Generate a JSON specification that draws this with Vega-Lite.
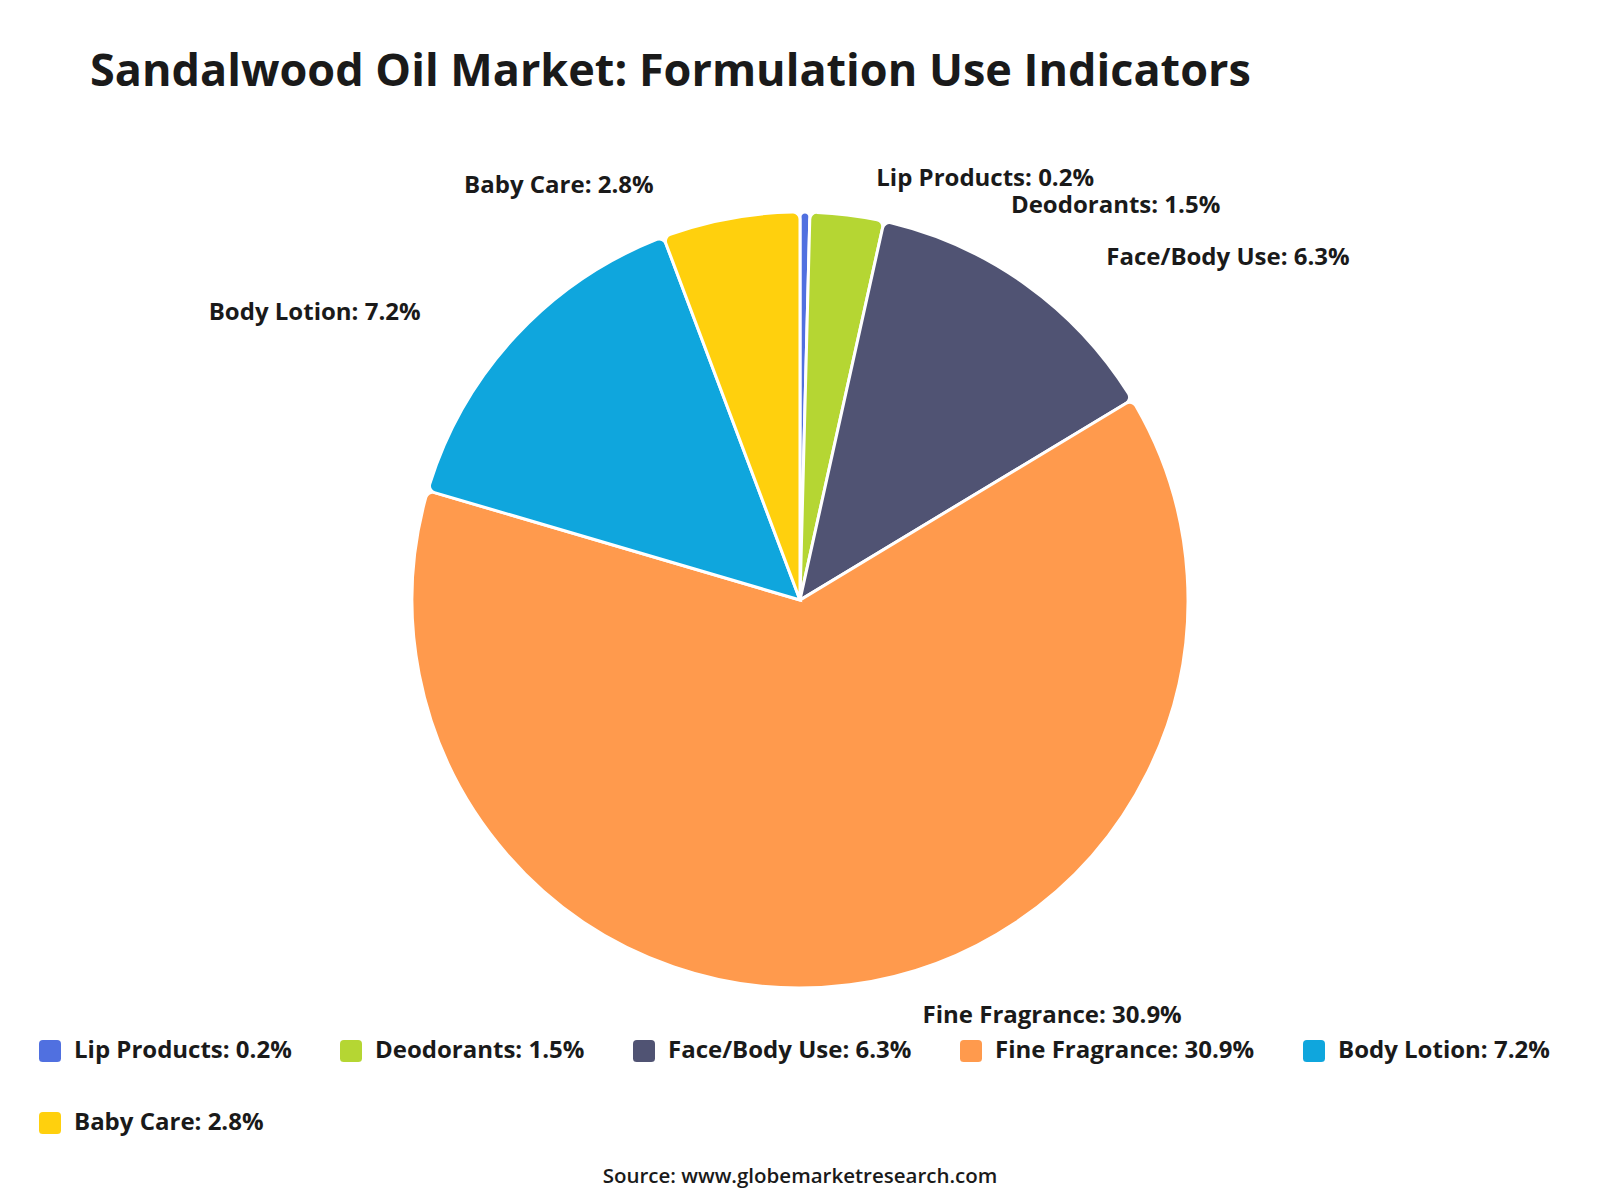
{
  "$schema": "https://vega.github.io/schema/vega-lite/v6.json",
  "width": 1600,
  "height": 1200,
  "autosize": {"type": "none"},
  "padding": 0,
  "background": "white",
  "config": {"view": {"stroke": null}},
  "title": {
    "text": "Sandalwood Oil Market: Formulation Use Indicators",
    "anchor": "start",
    "frame": "group",
    "orient": "top",
    "font": "Open Sans",
    "fontSize": 45,
    "fontWeight": "bold",
    "color": "#1a1a1a",
    "baseline": "alphabetic",
    "offset": 0,
    "dx": 90,
    "dy": 131
  },
  "data": {
    "values": [
      {"category": "Lip Products", "value": 0.2},
      {"category": "Deodorants", "value": 1.5},
      {"category": "Face/Body Use", "value": 6.3},
      {"category": "Fine Fragrance", "value": 30.9},
      {"category": "Body Lotion", "value": 7.2},
      {"category": "Baby Care", "value": 2.8}
    ]
  },
  "transform": [
    {"window": [{"op": "row_number", "as": "idx"}]},
    {"calculate": "datum.category + ': ' + format(datum.value, '.1f') + '%'", "as": "label"}
  ],
  "encoding": {
    "theta": {"field": "value", "type": "quantitative", "stack": true},
    "order": {"field": "idx", "type": "quantitative"}
  },
  "layer": [
    {
      "mark": {"type": "arc", "outerRadius": 388, "stroke": "white", "strokeWidth": 3, "cornerRadius": 7},
      "encoding": {
        "color": {
          "field": "label",
          "type": "nominal",
          "sort": {"field": "idx", "op": "min"},
          "scale": {"range": ["#5070E0", "#B5D633", "#505373", "#FF9A4D", "#0FA6DD", "#FFD00D"]},
          "legend": {
            "title": null,
            "orient": "none",
            "legendX": 38,
            "legendY": 1039,
            "direction": "horizontal",
            "columns": 5,
            "columnPadding": 47,
            "rowPadding": 48,
            "padding": 0,
            "symbolType": "M-0.65,-1L0.65,-1Q1,-1 1,-0.65L1,0.65Q1,1 0.65,1L-0.65,1Q-1,1 -1,0.65L-1,-0.65Q-1,-1 -0.65,-1Z",
            "symbolSize": 484,
            "symbolStrokeWidth": 0,
            "symbolOpacity": 1,
            "labelFont": "Open Sans",
            "labelFontSize": 24,
            "labelFontWeight": "bold",
            "labelColor": "#1a1a1a",
            "labelOffset": 12,
            "labelLimit": 400
          }
        }
      }
    },
    {
      "mark": {"type": "text", "radius": 410, "align": "left", "baseline": "middle", "font": "Open Sans", "fontSize": 24, "fontWeight": "bold", "color": "#1a1a1a", "dx": 71, "dy": -11},
      "encoding": {"text": {"condition": {"test": "datum.category === 'Lip Products'", "field": "label"}, "value": ""}}
    },
    {
      "mark": {"type": "text", "radius": 410, "align": "left", "baseline": "middle", "font": "Open Sans", "fontSize": 24, "fontWeight": "bold", "color": "#1a1a1a", "dx": 161, "dy": 13},
      "encoding": {"text": {"condition": {"test": "datum.category === 'Deodorants'", "field": "label"}, "value": ""}}
    },
    {
      "mark": {"type": "text", "radius": 410, "align": "left", "baseline": "middle", "font": "Open Sans", "fontSize": 24, "fontWeight": "bold", "color": "#1a1a1a", "dx": 67, "dy": -9},
      "encoding": {"text": {"condition": {"test": "datum.category === 'Face/Body Use'", "field": "label"}, "value": ""}}
    },
    {
      "mark": {"type": "text", "radius": 410, "align": "left", "baseline": "middle", "font": "Open Sans", "fontSize": 24, "fontWeight": "bold", "color": "#1a1a1a", "dx": 70, "dy": 9},
      "encoding": {"text": {"condition": {"test": "datum.category === 'Fine Fragrance'", "field": "label"}, "value": ""}}
    },
    {
      "mark": {"type": "text", "radius": 410, "align": "right", "baseline": "middle", "font": "Open Sans", "fontSize": 24, "fontWeight": "bold", "color": "#1a1a1a", "dx": -79, "dy": -8},
      "encoding": {"text": {"condition": {"test": "datum.category === 'Body Lotion'", "field": "label"}, "value": ""}}
    },
    {
      "mark": {"type": "text", "radius": 410, "align": "right", "baseline": "middle", "font": "Open Sans", "fontSize": 24, "fontWeight": "bold", "color": "#1a1a1a", "dx": -73, "dy": -11},
      "encoding": {"text": {"condition": {"test": "datum.category === 'Baby Care'", "field": "label"}, "value": ""}}
    },
    {
      "data": {"values": [{"note": "Source: www.globemarketresearch.com"}]},
      "transform": [],
      "mark": {"type": "text", "align": "center", "baseline": "middle", "font": "Open Sans", "fontSize": 20.5, "fontWeight": 600, "color": "#1a1a1a"},
      "encoding": {
        "theta": null,
        "order": null,
        "text": {"field": "note"},
        "x": {"value": 800},
        "y": {"value": 1177}
      }
    }
  ]
}
